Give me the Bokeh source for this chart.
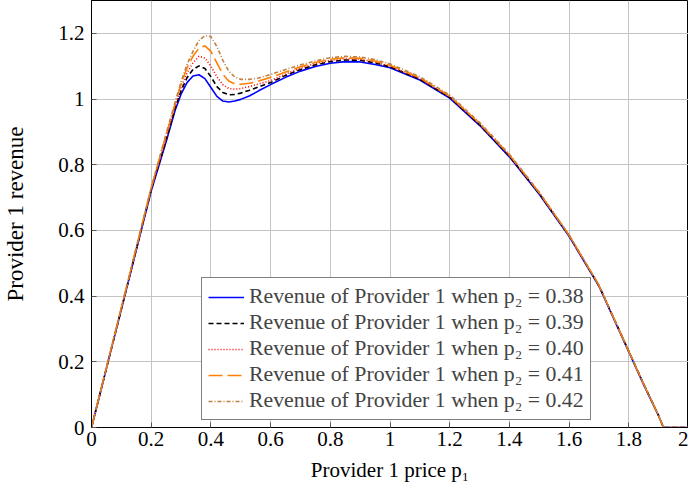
from bokeh.plotting import figure
from bokeh.models import Range1d, FixedTicker, Legend, LegendItem, ColumnDataSource
from bokeh.embed import file_html
from bokeh.resources import INLINE

# ---- data ----
price = [0.0, 0.1, 0.2, 0.25, 0.28, 0.30, 0.32, 0.34, 0.36, 0.38, 0.40, 0.42, 0.44,
         0.46, 0.48, 0.50, 0.53, 0.56, 0.60, 0.65, 0.70, 0.75, 0.80, 0.85, 0.90, 0.95,
         1.00, 1.10, 1.20, 1.30, 1.40, 1.50, 1.60, 1.70, 1.80, 1.85, 1.90, 1.916, 2.00]

rev_038 = [0, 0.36, 0.72, 0.87, 0.965, 1.015, 1.05, 1.07, 1.074, 1.062, 1.035, 1.008, 0.994,
           0.991, 0.994, 0.999, 1.01, 1.025, 1.044, 1.066, 1.085, 1.099, 1.109, 1.114, 1.113,
           1.105, 1.095, 1.058, 1.003, 0.92, 0.824, 0.71, 0.582, 0.43, 0.23, 0.13, 0.035, 0, 0]
rev_039 = [0, 0.36, 0.725, 0.875, 0.972, 1.025, 1.065, 1.09, 1.101, 1.093, 1.068, 1.038, 1.02,
           1.013, 1.014, 1.018, 1.027, 1.037, 1.05, 1.072, 1.09, 1.104, 1.114, 1.119, 1.118,
           1.11, 1.098, 1.06, 1.005, 0.922, 0.826, 0.712, 0.584, 0.432, 0.232, 0.132, 0.036, 0, 0]
rev_040 = [0, 0.36, 0.725, 0.88, 0.978, 1.035, 1.08, 1.11, 1.13, 1.125, 1.1, 1.068, 1.044,
           1.032, 1.03, 1.032, 1.038, 1.046, 1.056, 1.076, 1.094, 1.108, 1.118, 1.123, 1.121,
           1.113, 1.1, 1.062, 1.007, 0.924, 0.828, 0.714, 0.585, 0.432, 0.232, 0.132, 0.036, 0, 0]
rev_041 = [0, 0.365, 0.73, 0.89, 0.985, 1.045, 1.095, 1.13, 1.155, 1.162, 1.145, 1.11, 1.075,
           1.055, 1.046, 1.045, 1.048, 1.055, 1.066, 1.082, 1.098, 1.111, 1.121, 1.126, 1.124,
           1.116, 1.103, 1.065, 1.009, 0.926, 0.83, 0.715, 0.586, 0.433, 0.232, 0.132, 0.036, 0, 0]
rev_042 = [0, 0.365, 0.73, 0.895, 0.99, 1.052, 1.105, 1.145, 1.178, 1.193, 1.19, 1.16, 1.118,
           1.085, 1.067, 1.06, 1.06, 1.064, 1.075, 1.09, 1.104, 1.116, 1.126, 1.13, 1.128,
           1.12, 1.107, 1.068, 1.012, 0.929, 0.832, 0.716, 0.586, 0.433, 0.232, 0.132, 0.036, 0, 0]

series_labels = ["Revenue of Provider 1 when p\u2082 = 0.38",
                 "Revenue of Provider 1 when p\u2082 = 0.39",
                 "Revenue of Provider 1 when p\u2082 = 0.40",
                 "Revenue of Provider 1 when p\u2082 = 0.41",
                 "Revenue of Provider 1 when p\u2082 = 0.42"]

x_ticks = [0, 0.2, 0.4, 0.6, 0.8, 1.0, 1.2, 1.4, 1.6, 1.8, 2.0]
x_tick_labels = ["0", "0.2", "0.4", "0.6", "0.8", "1", "1.2", "1.4", "1.6", "1.8", "2"]
y_ticks = [0, 0.2, 0.4, 0.6, 0.8, 1.0, 1.2]
y_tick_labels = ["0", "0.2", "0.4", "0.6", "0.8", "1", "1.2"]

x_title = "Provider 1 price p\u2081"
y_title = "Provider 1 revenue"

# ---- styles ----
FONT = "Liberation Serif"
styles = [
    dict(color="#0000ff", dash="solid"),
    dict(color="#000000", dash="5 3"),
    dict(color="#ff0000", dash="1 2"),
    dict(color="#ff8000", dash="14 5"),
    dict(color="#bf8040", dash="4 2 1 2"),
]

p = figure(width=688, height=485, x_range=Range1d(0, 2), y_range=Range1d(0, 1.3),
           output_backend="svg", toolbar_location=None,
           min_border_left=88, min_border_right=0, min_border_top=0, min_border_bottom=58)
p.title.visible = False
p.background_fill_color = "white"
p.border_fill_color = "white"
p.outline_line_color = "black"
p.outline_line_width = 1

xt = FixedTicker(ticks=x_ticks)
yt = FixedTicker(ticks=y_ticks)
p.xaxis.ticker = xt
p.yaxis.ticker = yt
p.xgrid.ticker = xt
p.ygrid.ticker = yt
p.xaxis.major_label_overrides = dict(zip(x_ticks, x_tick_labels))
p.yaxis.major_label_overrides = dict(zip(y_ticks, y_tick_labels))

for ax in (p.xaxis, p.yaxis):
    ax.major_label_text_font = FONT
    ax.major_label_text_font_size = "21px"
    ax.major_label_text_color = "black"
    ax.axis_label_text_font = FONT
    ax.axis_label_text_font_size = "21px"
    ax.axis_label_text_font_style = "normal"
    ax.axis_label_text_color = "black"
    ax.major_tick_in = 5
    ax.major_tick_out = 0
    ax.minor_tick_in = 0
    ax.minor_tick_out = 0
    ax.axis_line_color = "black"
    ax.major_tick_line_color = "#555555"

p.xaxis.axis_label = x_title
p.yaxis.axis_label = y_title
p.yaxis.axis_label_text_font_size = "23px"
p.xaxis.major_label_standoff = 4
p.xaxis.axis_label_standoff = 9
p.yaxis.major_label_standoff = 7
p.yaxis.axis_label_standoff = 27

p.grid.grid_line_color = "#c4c4c4"
p.grid.grid_line_width = 1

items = []
for ys, st, lab in zip([rev_038, rev_039, rev_040, rev_041, rev_042], styles, series_labels):
    src = ColumnDataSource(dict(x=price, y=ys))
    r = p.line("x", "y", source=src, line_color=st["color"], line_width=1.6,
               line_dash=st["dash"])
    items.append(LegendItem(label=lab, renderers=[r]))

legend = Legend(items=items, location=(110, 7),
                label_text_font=FONT, label_text_font_size="21.8px",
                glyph_width=36, glyph_height=20, label_height=20,
                label_standoff=5, spacing=1, padding=6, margin=0,
                border_line_color="black", border_line_width=1,
                background_fill_color="white", background_fill_alpha=1)
p.add_layout(legend)

open("out.html", "w").write(file_html(p, INLINE))
